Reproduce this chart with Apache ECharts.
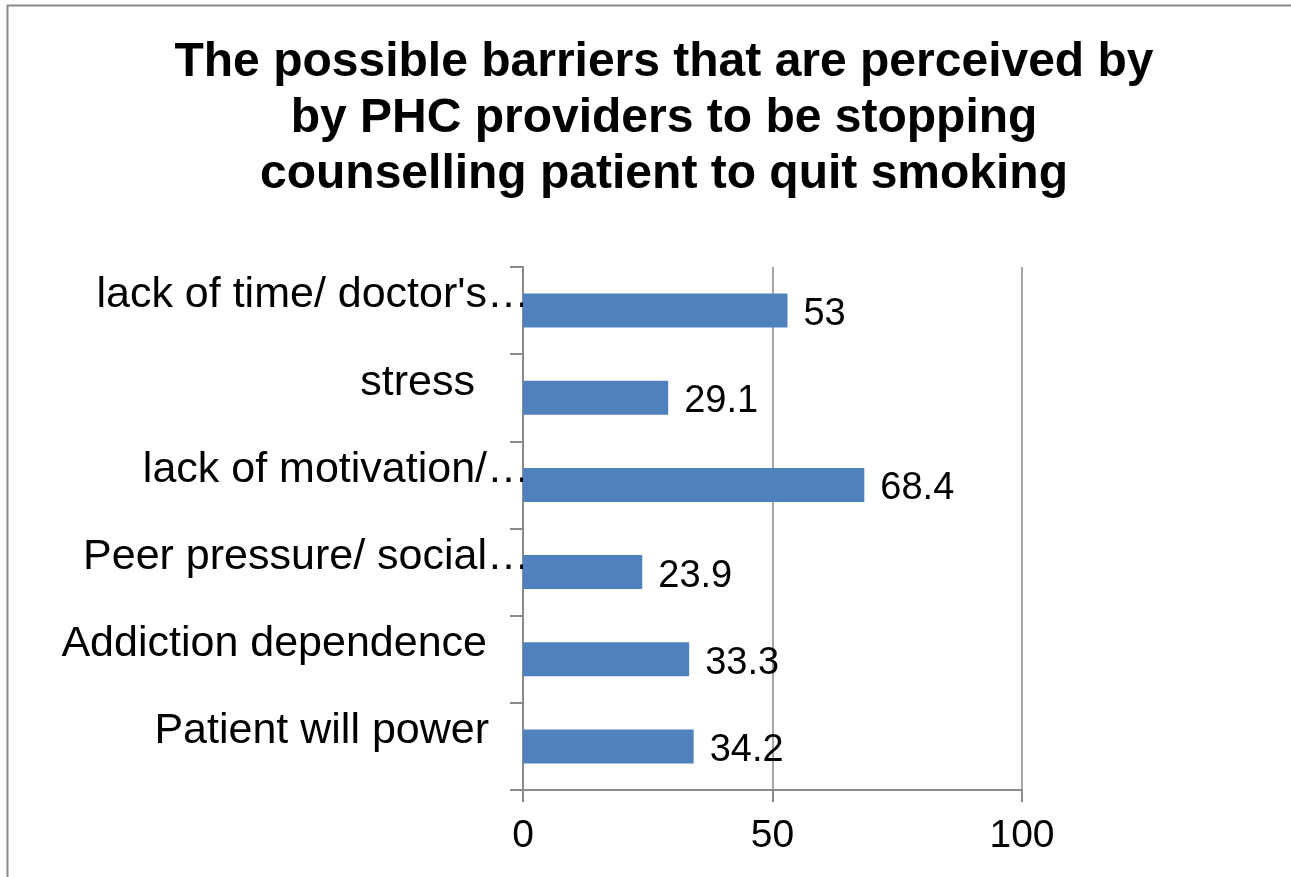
<!DOCTYPE html>
<html>
<head>
<meta charset="utf-8">
<script src="https://cdn.jsdelivr.net/npm/echarts@6/dist/echarts.min.js"></script>
<style>
  html, body { margin: 0; padding: 0; background: #fff; }
  #chart { width: 1291px; height: 877px; }
</style>
</head>
<body>
<div id="chart"></div>
<script>
// Barriers perceived by PHC providers (percent of respondents), top to bottom
const categories = [
  "lack of time/ doctor's…",
  "stress",
  "lack of motivation/…",
  "Peer pressure/ social…",
  "Addiction dependence",
  "Patient will power"
];
const values = [53, 29.1, 68.4, 23.9, 33.3, 34.2];
const xTickLabels = [0, 50, 100];

const titleText = 'The possible barriers that are perceived by\nby PHC providers to be stopping\ncounselling patient to quit smoking';

const FONT = '"Liberation Sans", Arial, Helvetica, sans-serif';
const AXIS_GREY = '#8a8a8a';

// extra right-hand space after the short category names
const labelGap = { 'stress': 55, 'Addiction dependence': 43, 'Patient will power': 41 };
const richStyles = {};
categories.forEach((c, i) => {
  richStyles['c' + i] = {
    fontFamily: FONT,
    fontSize: 43,
    color: '#000',
    align: 'right',
    padding: [0, labelGap[c] || 0, 30, 0]
  };
});

const chart = echarts.init(document.getElementById('chart'), null, { renderer: 'canvas' });

chart.setOption({
  backgroundColor: '#fff',
  animation: false,
  title: {
    text: titleText,
    left: 659,
    top: 30,
    textAlign: 'center',
    textStyle: {
      fontFamily: FONT,
      fontWeight: 'bold',
      fontSize: 48,
      lineHeight: 56,
      color: '#000'
    }
  },
  graphic: [{
    type: 'rect',
    shape: { x: 7.5, y: 5.5, width: 1400, height: 1000 },
    style: { fill: 'none', stroke: AXIS_GREY, lineWidth: 2 },
    silent: true
  }],
  grid: {
    left: 523,
    top: 267,
    width: 499,
    height: 523,
    containLabel: false
  },
  xAxis: {
    type: 'value',
    min: xTickLabels[0],
    max: xTickLabels[xTickLabels.length - 1],
    interval: xTickLabels[1] - xTickLabels[0],
    axisLine: { show: true, lineStyle: { color: AXIS_GREY, width: 2 } },
    axisTick: { show: true, length: 12, lineStyle: { color: AXIS_GREY, width: 2 } },
    splitLine: { show: true, lineStyle: { color: AXIS_GREY, width: 1.5 } },
    axisLabel: {
      fontFamily: FONT,
      fontSize: 39,
      color: '#000',
      margin: 27
    }
  },
  yAxis: {
    type: 'category',
    inverse: true,
    data: categories,
    axisLine: { show: true, lineStyle: { color: AXIS_GREY, width: 2 } },
    axisTick: { show: true, length: 13, lineStyle: { color: AXIS_GREY, width: 2 } },
    axisLabel: {
      margin: -7,
      formatter: (v, i) => '{c' + i + '|' + v + '}',
      rich: richStyles
    }
  },
  series: [{
    type: 'bar',
    data: values,
    barWidth: 34,
    itemStyle: { color: '#4F81BD' },
    label: {
      show: true,
      position: 'right',
      distance: 16,
      offset: [0, 4],
      fontFamily: FONT,
      fontSize: 38,
      color: '#000'
    }
  }]
});
</script>
</body>
</html>
